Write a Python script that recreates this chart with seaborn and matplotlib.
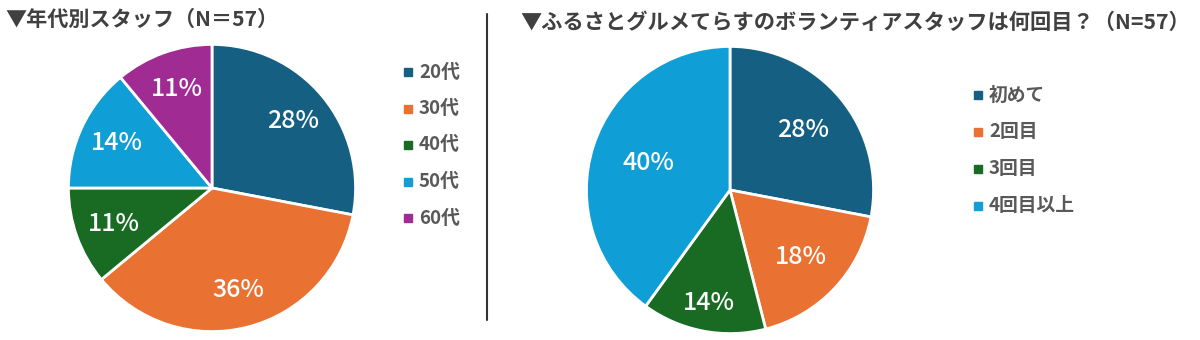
import matplotlib
matplotlib.use("Agg")
import matplotlib.pyplot as plt
from matplotlib.lines import Line2D
import seaborn as sns
import numpy as np

# ---- data ----
age_labels = ["20代", "30代", "40代", "50代", "60代"]
age_values = [28, 36, 11, 14, 11]
times_labels = ["初めて", "2回目", "3回目", "4回目以上"]
times_values = [28, 18, 14, 40]
title_left = "▼年代別スタッフ（N＝57）"
title_right = "▼ふるさとグルメてらすのボランティアスタッフは何回目？（N=57）"

sns.set_theme(style="white")
plt.rcParams['font.family'] = ['Noto Sans CJK JP', 'DejaVu Sans']

palette = sns.color_palette(["#156082", "#E97132", "#196B24", "#0F9ED5", "#A02B93"])

W, H = 1200, 340
fig = plt.figure(figsize=(W / 100, H / 100), dpi=100)
fig.patch.set_facecolor("white")

def px_axes(cx, cy, r):
    return fig.add_axes([(cx - r) / W, 1 - (cy + r) / H, 2 * r / W, 2 * r / H])

def draw_pie(ax, values, colors, pctdist):
    wedges, texts, autotexts = ax.pie(
        values, colors=colors, startangle=90, counterclock=False,
        autopct=lambda p: f"{p:.0f}%", pctdistance=pctdist,
        wedgeprops=dict(edgecolor="white", linewidth=2),
        textprops=dict(color="white", fontsize=18, fontweight="medium"))
    ax.set_xlim(-1.01, 1.01)
    ax.set_ylim(-1.01, 1.01)
    ax.set_aspect("equal")
    ax.axis("off")
    return wedges, autotexts

# left pie
axL = px_axes(212, 188, 145)
draw_pie(axL, age_values, palette[:5], 0.73)

# right pie
axR = px_axes(730, 190, 145)
wR, tR = draw_pie(axR, times_values, palette[:4], 0.66)
rdist = [0.66, 0.68, 0.80, 0.60]
for w, t, d in zip(wR, tR, rdist):
    ang = np.deg2rad((w.theta1 + w.theta2) / 2)
    t.set_position((d * np.cos(ang), d * np.sin(ang)))

# titles
fig.text(5 / W, 1 - 19 / H, title_left, fontsize=15.2, fontweight="bold",
         color="#404040", va="center", ha="left")
fig.text(520 / W, 1 - 22 / H, title_right, fontsize=15.3, fontweight="bold",
         color="#404040", va="center", ha="left")

# legends
def draw_legend(x, y0, dy, labels, colors):
    for i, (lab, c) in enumerate(zip(labels, colors)):
        y = y0 + i * dy
        fig.add_artist(Line2D([(x + 4) / W], [1 - y / H], marker="s", markersize=6,
                              color=c, linestyle="none"))
        fig.text((x + 15) / W, 1 - y / H, lab, fontsize=13.5, color="#595959",
                 fontweight="bold", va="center", ha="left")

draw_legend(404, 72, 36.5, age_labels, palette[:5])
draw_legend(974, 95, 37, times_labels, palette[:4])

# divider
fig.add_artist(Line2D([487 / W, 487 / W], [1 - 14 / H, 1 - 320 / H],
                      color="#333333", linewidth=1.5))

fig.savefig("out.png", dpi=100, facecolor="white")
